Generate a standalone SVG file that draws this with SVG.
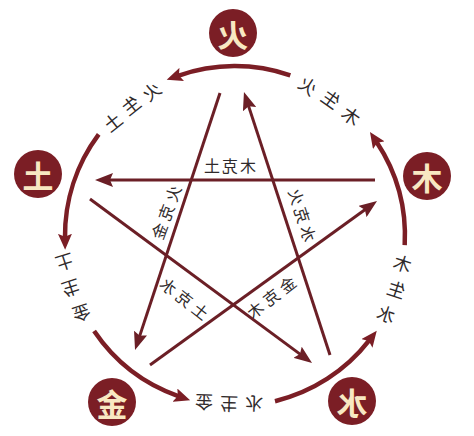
<svg xmlns="http://www.w3.org/2000/svg" width="474" height="436" viewBox="0 0 474 436">
<defs>
<style>
.node circle{fill:#7b1e25}
.node text{font-family:"Noto Sans CJK SC","Noto Sans CJK TC",sans-serif;font-size:31px;font-weight:700;fill:#f8e8c2;text-anchor:middle;dominant-baseline:central}
.arc{fill:none;stroke:#7b1e25;stroke-width:4.5;marker-end:url(#ah)}
.ln{fill:none;stroke:#6b1f26;stroke-width:3;marker-end:url(#lh)}
.lbl,.lbl tspan,.cl,.cl tspan{font-family:"Noto Sans CJK SC","Noto Sans CJK TC",sans-serif;fill:#2f2a2b;text-anchor:middle;dominant-baseline:central}
.lbl{font-size:18px}
.cl{font-size:16px}
</style>
<marker id="ah" markerUnits="userSpaceOnUse" markerWidth="18" markerHeight="14" refX="4" refY="7" orient="auto"><path d="M0,0 L16,7 L0,14 L3,7 z" fill="#7b1e25"/></marker>
<marker id="lh" markerUnits="userSpaceOnUse" markerWidth="20" markerHeight="14" refX="6" refY="7" orient="auto"><path d="M0,0 L18,7 L0,14 L3,7 z" fill="#6b1f26"/></marker>
</defs>
<rect width="474" height="436" fill="#ffffff"/>
<g id="connectors">
<path class="arc" d="M290.3,75.3 A170,170 0 0 0 178.0,75.8"/>
<path class="arc" d="M98.7,134.4 A170,170 0 0 0 65.0,237.8"/>
<path class="arc" d="M94.1,331.1 A170,170 0 0 0 178.8,396.4"/>
<path class="arc" d="M275.0,401.2 A170,170 0 0 0 369.4,340.2"/>
<path class="arc" d="M404.7,245.2 A170,170 0 0 0 376.6,141.9"/>
<path class="ln" d="M375,180 L107,180"/>
<path class="ln" d="M220,93 L138.8,338.6"/>
<path class="ln" d="M330,355 L247.7,103.4"/>
<path class="ln" d="M90,199 L302.4,355.9"/>
<path class="ln" d="M150,365 L367.3,208"/>
<text class="lbl" transform="translate(130.4,104.5) rotate(-38.5) scale(-1,1)"><tspan x="-24.8" y="1.8">火</tspan><tspan x="0" y="0">生</tspan><tspan x="24.8" y="1.8">土</tspan></text>
<text class="lbl" transform="translate(331.4,98.4) rotate(35) scale(-1,1)"><tspan x="-26.3" y="2">木</tspan><tspan x="0" y="0">生</tspan><tspan x="26.3" y="2">火</tspan></text>
<text class="lbl" transform="translate(229,405) rotate(181.7) scale(-1,1)"><tspan x="-25" y="1">金</tspan><tspan x="0" y="0">生</tspan><tspan x="25" y="1">水</tspan></text>
<text class="lbl" transform="translate(71.4,289.2) rotate(162) scale(-1,1)"><tspan x="2.1" y="26.9">土</tspan><tspan x="0" y="0">生</tspan><tspan x="2.1" y="-26.9">金</tspan></text>
<text class="lbl" transform="translate(396.7,288.5) rotate(18) scale(-1,1)"><tspan x="2.1" y="-26.6">木</tspan><tspan x="0" y="0">生</tspan><tspan x="2.1" y="26.6">水</tspan></text>
<text class="cl" transform="translate(230,165) scale(-1,1)"><tspan x="-18" y="0">木</tspan><tspan x="0" y="0">克</tspan><tspan x="18" y="0">土</tspan></text>
<text class="cl" transform="translate(165.5,212) rotate(-70) scale(-1,1)"><tspan x="-20" y="0">火</tspan><tspan x="0" y="0">克</tspan><tspan x="20" y="0">金</tspan></text>
<text class="cl" transform="translate(303,215) rotate(72) scale(-1,1)"><tspan x="-19.2" y="0">水</tspan><tspan x="0" y="0">克</tspan><tspan x="19.2" y="0">火</tspan></text>
<text class="cl" transform="translate(185,298) rotate(38) scale(-1,1)"><tspan x="-20.2" y="0">土</tspan><tspan x="0" y="0">克</tspan><tspan x="20.2" y="0">水</tspan></text>
<text class="cl" transform="translate(271,296.7) rotate(-38) scale(-1,1)"><tspan x="-20.5" y="0">金</tspan><tspan x="0" y="0">克</tspan><tspan x="20.5" y="0">木</tspan></text>
</g>
<g id="node-fire" class="node"><circle cx="233" cy="33" r="24"/><text transform="translate(233,33) scale(-1,1)">火</text></g>
<g id="node-wood" class="node"><circle cx="427" cy="176" r="24"/><text transform="translate(427,176) scale(-1,1)">木</text></g>
<g id="node-earth" class="node"><circle cx="38" cy="174" r="24"/><text transform="translate(38,174) scale(-1,1)">土</text></g>
<g id="node-metal" class="node"><circle cx="112" cy="402" r="24"/><text transform="translate(112,402) scale(-1,1)">金</text></g>
<g id="node-water" class="node"><circle cx="352" cy="401" r="24"/><text transform="translate(352,401) scale(-1,1)">水</text></g>
</svg>
